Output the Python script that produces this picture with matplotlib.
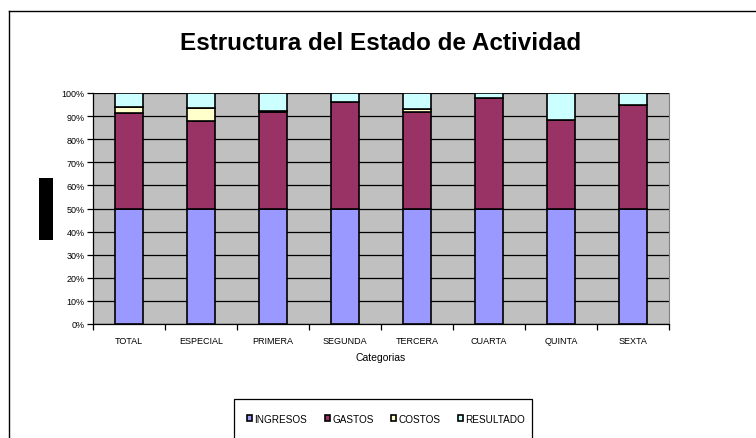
import matplotlib
matplotlib.use("Agg")
import matplotlib.pyplot as plt
from matplotlib.patches import Rectangle
from matplotlib.lines import Line2D
import numpy as np

plt.rcParams['font.family'] = ['Liberation Sans', 'DejaVu Sans']

# datos (porcentaje de cada componente)
categorias = ['TOTAL', 'ESPECIAL', 'PRIMERA', 'SEGUNDA', 'TERCERA', 'CUARTA', 'QUINTA', 'SEXTA']
ingresos = [50.0, 50.0, 50.0, 50.0, 50.0, 50.0, 50.0, 50.0]
gastos = [41.4, 37.9, 41.6, 46.0, 41.7, 47.9, 38.4, 44.6]
costos = [2.7, 5.7, 0.4, 0.0, 1.4, 0.0, 0.0, 0.0]
resultado = [5.9, 6.4, 8.0, 4.0, 6.9, 2.1, 11.6, 5.4]

series = [('INGRESOS', ingresos, '#9999FF'),
          ('GASTOS', gastos, '#993366'),
          ('COSTOS', costos, '#FFFFCC'),
          ('RESULTADO', resultado, '#CCFFFF')]

W, H = 756, 439
fig = plt.figure(figsize=(W / 100, H / 100), dpi=100)
fig.patch.set_facecolor('white')

ax = fig.add_axes([93 / W, (H - 325) / H, 576 / W, 231 / H])
ax.set_facecolor('#C0C0C0')

x = np.arange(len(categorias))
base = np.zeros(len(categorias))
for nombre, vals, color in series:
    ax.bar(x, vals, bottom=base, width=0.4, color=color, edgecolor='black',
           linewidth=1.2, label=nombre, zorder=3)
    base = base + np.array(vals)

ax.set_xlim(-0.5, len(categorias) - 0.5)
ax.set_ylim(0, 100)
ax.set_yticks(np.arange(0, 101, 10))
ax.set_yticklabels([f'{v}%' for v in range(0, 101, 10)], fontsize=6.5)
ax.yaxis.grid(True, color='black', linewidth=0.9, zorder=1)
ax.set_axisbelow(True)

ax.set_xticks(x)
ax.set_xticklabels(categorias, fontsize=6.5)
ax.tick_params(axis='x', length=0, pad=9)
ax.set_xticks(np.arange(-0.5, len(categorias), 1), minor=True)
ax.tick_params(axis='x', which='minor', length=4, width=0.9, direction='out')
ax.tick_params(axis='y', length=4, width=0.9, direction='out', pad=2)
ax.set_xlabel('Categorias', fontsize=7.5, labelpad=5)

for s in ['left', 'bottom']:
    ax.spines[s].set_color('black')
    ax.spines[s].set_linewidth(0.9)
ax.spines['top'].set_visible(False)
ax.spines['right'].set_color('#808080')

fig.text(381 / W, 1 - 44 / H, 'Estructura del Estado de Actividad',
         ha='center', va='center', fontsize=17.5, fontweight='bold')

# marco exterior
fig.add_artist(Line2D([8.5 / W, 8.5 / W], [1 - 12 / H, 0], color='black',
                      linewidth=1.0, transform=fig.transFigure))
fig.add_artist(Line2D([8.5 / W, 1], [1 - 12 / H, 1 - 12 / H], color='black',
                      linewidth=1.0, transform=fig.transFigure))

# bloque negro (titulo eje y tapado)
fig.add_artist(Rectangle((39 / W, 1 - 241 / H), 14 / W, 62 / H,
                         facecolor='black', edgecolor='none', transform=fig.transFigure))

# leyenda
fig.add_artist(Rectangle((234 / W, -0.1), 298 / W, 0.1 + (H - 400) / H,
                         facecolor='white', edgecolor='black', linewidth=0.9,
                         transform=fig.transFigure))
fig.legend(loc='center', bbox_to_anchor=(386 / W, (H - 420) / H), ncol=4,
           frameon=False, fontsize=7.2, handlelength=0.55, handleheight=0.55,
           handletextpad=0.2, columnspacing=1.75)

fig.savefig('out.png', dpi=100)
